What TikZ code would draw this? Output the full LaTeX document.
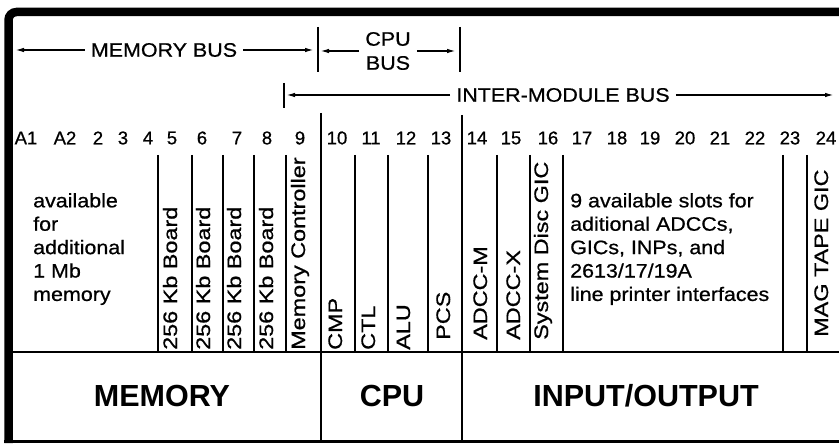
\documentclass[tikz,border=0pt]{standalone}
\usepackage{fontspec}
\setmainfont{Liberation Sans}
\newfontfamily\plainfont{Liberation Sans}[FakeBold=0.7]
\newfontfamily\labfont{Liberation Sans}[FakeStretch=1.1,FakeBold=0.7]
\usetikzlibrary{arrows.meta}
\begin{document}
\begin{tikzpicture}[x=1bp,y=-1bp,
  frame/.style={line width=8.5bp},
  bus/.style={line width=1.5bp},
  tick/.style={line width=1.5bp},
  slotline/.style={line width=1.8bp},
  arr/.style={-{Latex[length=9bp,width=4.5bp]}},
  buslabel/.style={font=\labfont\fontsize{19.5bp}{24bp}\selectfont, inner xsep=6bp, inner ysep=0pt},
  num/.style={font=\plainfont\fontsize{18.5bp}{20bp}\selectfont, inner sep=0pt},
  vlab/.style={rotate=90, anchor=base west, inner sep=0pt, font=\plainfont\fontsize{19.5bp}{22bp}\selectfont},
  block/.style={align=left, anchor=north west, inner sep=0pt, font=\labfont\fontsize{19.5bp}{23.4bp}\selectfont},
  big/.style={font=\bfseries\fontsize{30.5bp}{32bp}\selectfont, inner sep=0pt}
]
\useasboundingbox (0,0) rectangle (839,445);
% frame
\draw[frame, rounded corners=8bp] (839,12) -- (8.5,12) -- (8.5,443);
\draw[line width=3bp] (4,441.5) -- (839,441.5);
\draw[line width=2.5bp] (13,352) -- (839,352);
% memory bus
\node[buslabel] (mb) at (164,50) {MEMORY BUS};
\coordinate (mbL) at (15,50);
\coordinate (mbR) at (314,50);
\draw[bus,arr] (mb.west) -- (mbL);
\draw[bus,arr] (mb.east) -- (mbR);
\coordinate (t1a) at (318,27); \coordinate (t1b) at (318,72);
\draw[tick] (t1a) -- (t1b);
% cpu bus
\node[buslabel, align=center] (cb) at (388,51) {CPU\\BUS};
\coordinate (cbL) at (320,51);
\coordinate (cbR) at (456,51);
\draw[bus,arr] (cb.west) -- (cbL);
\draw[bus,arr] (cb.east) -- (cbR);
\coordinate (t2a) at (460,27); \coordinate (t2b) at (460,72);
\draw[tick] (t2a) -- (t2b);
% inter-module bus
\node[buslabel] (im) at (563,95) {INTER-MODULE BUS};
\coordinate (imL) at (286,95);
\coordinate (imR) at (834,95);
\draw[bus,arr] (im.west) -- (imL);
\draw[bus,arr] (im.east) -- (imR);
\coordinate (t3a) at (284,83); \coordinate (t3b) at (284,108);
\draw[tick] (t3a) -- (t3b);
% slot numbers
\foreach \t/\x [count=\i] in {A1/26,A2/65,2/98,3/123,4/148,5/172,6/202,7/237,8/267,9/300,10/337,11/371,12/406,13/441,14/477,15/511,16/548,17/582,18/617,19/650,20/685,21/720,22/755,23/790,24/826}
  \node[num] (n\i) at (\x,138) {\t};
% slot lines
\foreach \x in {158,192,223,254,286,355,388,428,497,530,563,783,807}
  \draw[slotline] (\x,155) -- (\x,352);
\draw[slotline] (321,113) -- (321,441);
\draw[slotline] (462,115) -- (462,441);
% vertical labels
\node[vlab] (s5) at (177,350) {\scalebox{1.2}[1]{256 Kb Board}};
\node[vlab] (s6) at (210,350) {\scalebox{1.2}[1]{256 Kb Board}};
\node[vlab] (s7) at (241,350) {\scalebox{1.2}[1]{256 Kb Board}};
\node[vlab] (s8) at (273,350) {\scalebox{1.2}[1]{256 Kb Board}};
\node[vlab] (s9) at (305,350) {\scalebox{1.2}[1]{Memory Controller}};
\node[vlab] (s10) at (342,350) {\scalebox{1.2}[1]{CMP}};
\node[vlab] (s11) at (375,350) {\scalebox{1.2}[1]{CTL}};
\node[vlab] (s12) at (410,350) {\scalebox{1.2}[1]{ALU}};
\node[vlab] (s13) at (450,340) {\scalebox{1.2}[1]{PCS}};
\node[vlab] (s14) at (487,340) {\scalebox{1.2}[1]{ADCC-M}};
\node[vlab] (s15) at (520,340) {\scalebox{1.2}[1]{ADCC-X}};
\node[vlab] (s16) at (548,340) {\scalebox{1.2}[1]{System Disc GIC}};
\node[vlab] (s24) at (828,337) {\scalebox{1.2}[1]{MAG TAPE GIC}};
% text blocks
\node[block] (avail) at (33,193) {available\\for\\additional\\1 Mb\\memory};
\node[block] (io) at (570,193) {9 available slots for\\aditional ADCCs,\\GICs, INPs, and\\2613/17/19A\\line printer interfaces};
% section titles
\node[big] (mem) at (162,396) {MEMORY};
\node[big] (cpu) at (392,396) {CPU};
\node[big] (iol) at (646,396) {INPUT/OUTPUT};
\end{tikzpicture}
\end{document}
